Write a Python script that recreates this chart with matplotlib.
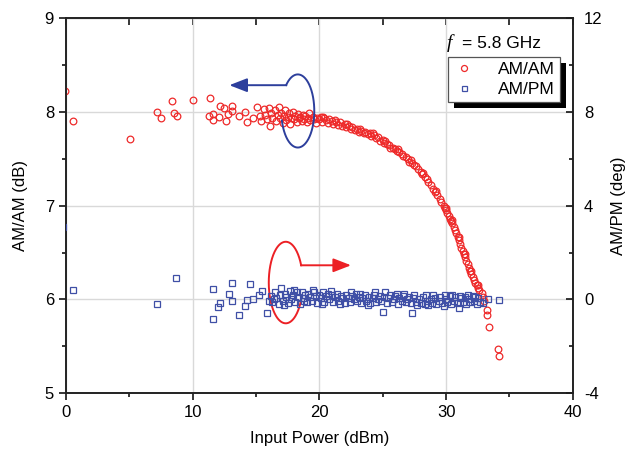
import numpy as np
import matplotlib
matplotlib.use("Agg")
import matplotlib.pyplot as plt
from matplotlib.patches import Rectangle
from matplotlib.transforms import IdentityTransform

plt.rcParams['font.family'] = ['Liberation Sans', 'DejaVu Sans']
plt.rcParams['font.size'] = 12
plt.rcParams['axes.unicode_minus'] = False

# AM/AM (dB) vs input power (dBm)
amam_x = [-0.1, 0.6, 5.05, 7.2, 7.5, 8.4, 8.5, 8.8, 10.0, 11.4, 11.3, 11.6, 11.6, 12.1, 12.2,
          12.5, 12.6, 12.8, 13.1, 13.1, 13.7, 14.1, 14.3, 14.8, 15.1,
          15.3, 15.4, 15.6, 15.7, 15.9, 16.0, 16.1, 16.2, 16.3, 16.5, 16.6, 16.7, 16.8, 16.9,
          17.0, 17.1, 17.2, 17.3, 17.4, 17.5, 17.6, 17.7, 17.8, 17.9, 18.0, 18.1, 18.2, 18.3,
          18.4, 18.5, 18.6, 18.7, 18.8, 18.9, 19.0, 19.1, 19.2, 19.3, 19.5, 19.6, 19.7, 19.8,
          20.0, 20.1, 20.2, 20.3, 20.4, 20.5, 20.7, 20.8, 21.0, 21.1, 21.2, 21.3, 21.5, 21.6,
          21.8, 22.0, 22.1, 22.2, 22.3, 22.5, 22.6, 22.8, 23.0, 23.1, 23.2, 23.3, 23.5, 23.6,
          23.8, 24.0, 24.1, 24.2, 24.3, 24.5, 24.6, 24.8, 25.0, 25.1, 25.2, 25.3, 25.5, 25.6,
          25.8, 26.0, 26.1, 26.2, 26.3, 26.5, 26.6, 26.8, 27.0, 27.1, 27.2, 27.3, 27.5, 27.6,
          27.8, 28.0, 28.1, 28.2, 28.3, 28.5, 28.6, 28.8, 29.0, 29.1, 29.2, 29.3, 29.5, 29.6,
          29.8, 29.9, 30.0, 30.0, 30.1, 30.2, 30.3, 30.4, 30.5, 30.5, 30.6, 30.7, 30.8, 30.9,
          31.0, 31.0, 31.1, 31.2, 31.3, 31.4, 31.5, 31.5, 31.6, 31.7, 31.8, 31.9, 32.0, 32.0,
          32.1, 32.2, 32.3, 32.4, 32.5, 32.5, 32.6, 32.8, 32.9, 33.0, 33.2, 33.2, 33.4, 34.1, 34.2]
amam_y = [8.22, 7.90, 7.71, 8.00, 7.94, 8.12, 7.99, 7.96, 8.13, 8.15, 7.96, 7.98, 7.91, 7.95, 8.06,
          8.04, 7.90, 7.98, 8.06, 8.01, 7.96, 8.00, 7.89, 7.93, 8.05,
          7.96, 7.90, 8.03, 7.97, 7.92, 8.04, 7.85, 7.99, 7.94, 8.02, 7.90, 7.97, 8.05, 7.93,
          7.99, 7.88, 7.96, 8.02, 7.91, 7.95, 7.99, 7.87, 7.94, 8.00, 7.92, 7.96, 7.89, 7.98,
          7.93, 7.95, 7.90, 7.97, 7.92, 7.96, 7.89, 7.94, 7.99, 7.91, 7.95, 7.92, 7.88, 7.94,
          7.92, 7.95, 7.89, 7.95, 7.93, 7.91, 7.88, 7.92, 7.90, 7.87, 7.91, 7.89, 7.86, 7.89,
          7.85, 7.87, 7.84, 7.87, 7.85, 7.82, 7.84, 7.81, 7.82, 7.79, 7.82, 7.80, 7.77, 7.79,
          7.76, 7.77, 7.74, 7.77, 7.75, 7.72, 7.73, 7.69, 7.70, 7.67, 7.69, 7.66, 7.65, 7.62,
          7.62, 7.60, 7.58, 7.60, 7.57, 7.55, 7.53, 7.52, 7.50, 7.47, 7.49, 7.46, 7.43, 7.42,
          7.39, 7.36, 7.34, 7.35, 7.31, 7.28, 7.25, 7.22, 7.18, 7.15, 7.16, 7.11, 7.07, 7.04,
          7.00, 6.97, 6.95, 6.98, 6.92, 6.89, 6.86, 6.84, 6.81, 6.85, 6.77, 6.74, 6.71, 6.67,
          6.63, 6.67, 6.59, 6.55, 6.52, 6.48, 6.45, 6.48, 6.41, 6.38, 6.34, 6.30, 6.27, 6.30,
          6.24, 6.21, 6.18, 6.15, 6.12, 6.15, 6.10, 6.07, 6.03, 5.98, 5.89, 5.83, 5.71, 5.47, 5.40]

# AM/PM (deg) vs input power (dBm)
ampm_x = [-0.2, 0.6, 7.2, 8.7, 11.6, 11.6, 12.0, 12.2, 12.9, 13.1, 13.1, 13.7, 14.1, 14.3, 14.5,
          14.8, 15.2, 15.5, 15.9, 16.0,
          16.2, 16.3, 16.4, 16.5, 16.6, 16.8, 16.9, 17.0, 17.1, 17.2, 17.3, 17.4, 17.5, 17.7,
          17.8, 17.9, 18.0, 18.1, 18.2, 18.3, 18.5, 18.6, 18.7, 18.8, 18.9, 19.0, 19.1, 19.3,
          19.4, 19.5, 19.6, 19.7, 19.8, 20.0, 20.1, 20.2, 20.3, 20.4, 20.5, 20.7, 20.8, 20.9,
          21.0, 21.1, 21.2, 21.4, 21.5, 21.6, 21.7, 21.8, 22.0, 22.1, 22.3, 22.4, 22.5, 22.6,
          22.7, 22.9, 23.0, 23.1, 23.2, 23.3, 23.4, 23.6, 23.7, 23.8, 23.9, 24.0, 24.2, 24.3,
          24.4, 24.5, 24.6, 24.8, 24.9, 25.0, 25.1, 25.2, 25.3, 25.4, 25.6, 25.7, 25.9, 26.0,
          26.1, 26.2, 26.3, 26.5, 26.6, 26.7, 26.8, 26.9, 27.1, 27.2, 27.3, 27.4, 27.5, 27.6,
          27.7, 27.9, 28.0, 28.2, 28.3, 28.4, 28.5, 28.6, 28.8, 28.9, 29.0, 29.1, 29.2, 29.4,
          29.5, 29.7, 29.8, 29.9, 30.0, 30.1, 30.3, 30.4, 30.5, 30.6, 30.7, 30.9, 31.0, 31.1,
          31.2, 31.3, 31.5, 31.6, 31.7, 31.8, 31.9, 32.1, 32.2, 32.3, 32.4, 32.5, 32.7, 32.9,
          33.3, 34.2]
ampm_y = [3.1, 0.40, -0.21, 0.90, 0.46, -0.85, -0.31, -0.14, 0.24, 0.68, -0.07, -0.67, -0.29, -0.03, 0.64,
          0.00, 0.17, 0.35, -0.57, -0.05,
          0.15, -0.10, 0.00, 0.30, 0.05, -0.20, 0.20, 0.50, -0.05, -0.25, 0.25, 0.10, -0.15, 0.35,
          0.00, 0.20, 0.40, -0.10, 0.30, 0.10, -0.20, 0.31, 0.05, -0.05, 0.20, -0.10, 0.25, 0.10,
          -0.05, 0.40, 0.30, 0.15, -0.15, 0.20, 0.05, -0.20, 0.30, -0.10, 0.15, 0.25, 0.00, 0.35,
          0.20, -0.10, 0.10, 0.25, -0.05, -0.20, 0.15, 0.05, -0.15, 0.20, 0.05, -0.10, 0.30, 0.15,
          0.00, 0.25, -0.05, 0.10, 0.25, -0.15, 0.05, 0.20, -0.05, -0.25, 0.10, -0.15, 0.05, 0.20,
          0.30, -0.10, 0.00, 0.15, -0.05, -0.54, 0.10, 0.30, -0.15, 0.05, 0.20, -0.10, 0.00, 0.15,
          0.25, -0.20, 0.05, -0.05, 0.15, 0.25, -0.10, 0.00, 0.10, -0.15, -0.60, 0.05, 0.20, -0.10,
          -0.25, 0.00, -0.15, 0.10, -0.20, 0.20, -0.05, -0.25, 0.00, -0.15, 0.20, 0.05, -0.20, -0.05,
          0.10, -0.15, -0.30, 0.20, 0.00, -0.10, 0.15, -0.20, 0.20, -0.05, 0.10, -0.15, -0.35, 0.15,
          0.05, -0.10, 0.10, -0.20, 0.20, 0.00, -0.10, 0.15, -0.05, 0.10, -0.20, 0.05, -0.10, -0.15,
          0.00, -0.03]

red = '#ee2a2a'
blue = '#3f4fa6'

fig = plt.figure(figsize=(6.33, 4.54), dpi=100)
ax = fig.add_axes([0.104, 0.134, 0.801, 0.826])
ax2 = ax.twinx()

ax.grid(True, which='major', color='#d9d9d9', lw=1.0)
ax.set_axisbelow(True)

l1, = ax.plot(amam_x, amam_y, ls='none', marker='o', ms=4.8, mfc='none', mec=red, mew=0.9,
              label='AM/AM', zorder=3)
l2, = ax2.plot(ampm_x, ampm_y, ls='none', marker='s', ms=4.0, mfc='none', mec=blue, mew=0.9,
               label='AM/PM', zorder=3)

ax.set_xlim(0, 40)
ax.set_ylim(5, 9)
ax2.set_ylim(-4, 12)
ax.set_xticks([0, 10, 20, 30, 40])
ax.set_xticks([5, 15, 25, 35], minor=True)
ax.set_yticks([5, 6, 7, 8, 9])
ax.set_yticks([5.5, 6.5, 7.5, 8.5], minor=True)
ax2.set_yticks([-4, 0, 4, 8, 12])
ax2.set_yticks([-2, 2, 6, 10], minor=True)

ax.tick_params(axis='both', which='major', direction='out', length=5, width=1.1, labelsize=12)
ax.tick_params(axis='both', which='minor', direction='out', length=3, width=1.1)
ax2.tick_params(axis='y', which='major', direction='in', length=5, width=1.1, labelsize=12, pad=8)
ax2.tick_params(axis='y', which='minor', direction='in', length=3, width=1.1)

top = ax.secondary_xaxis('top')
top.set_xticks([0, 10, 20, 30, 40])
top.set_xticks([5, 15, 25, 35], minor=True)
top.tick_params(which='major', direction='in', length=5, width=1.1, labeltop=False)
top.tick_params(which='minor', direction='in', length=5, width=1.1)

for a in (ax, ax2):
    for s in a.spines.values():
        s.set_linewidth(1.2)
        s.set_color('#222222')

ax.set_xlabel('Input Power (dBm)', fontsize=12, labelpad=8)
ax.set_ylabel('AM/AM (dB)', fontsize=12, labelpad=12)
ax2.set_ylabel('AM/PM (deg)', fontsize=12, labelpad=6)

# loop + arrow annotations (left axis data coords)
t = np.radians(np.linspace(195, 495, 200))
ax.plot(18.3 + 1.3 * np.cos(t), 8.01 + 0.39 * np.sin(t), color='#2d3f9c', lw=1.4, zorder=4)
ax.annotate('', xy=(12.9, 8.285), xytext=(17.4, 8.285),
            arrowprops=dict(arrowstyle='-|>,head_length=0.9,head_width=0.35', color='#2d3f9c',
                            lw=1.4, shrinkA=0, shrinkB=0))
t = np.radians(np.linspace(25, 331, 200))
ax.plot(17.35 + 1.34 * np.cos(t), 6.18 + 0.435 * np.sin(t), color='#ec2025', lw=1.4, zorder=4)
ax.annotate('', xy=(22.5, 6.364), xytext=(18.55, 6.364),
            arrowprops=dict(arrowstyle='-|>,head_length=0.9,head_width=0.35', color='#ec2025',
                            lw=1.4, shrinkA=0, shrinkB=0))

# frequency note and legend
ax.text(0.752, 0.933, 'f', transform=ax.transAxes, fontsize=14, style='italic',
        family='Liberation Serif', va='center', ha='left')
ax.text(0.782, 0.933, '= 5.8 GHz', transform=ax.transAxes, fontsize=12.5, va='center', ha='left')

leg = ax2.legend(handles=[l1, l2], loc='upper left', bbox_to_anchor=(0.753, 0.897),
                 borderaxespad=0, frameon=True, fancybox=False, framealpha=1,
                 edgecolor='#555555', fontsize=12.5, handlelength=1.3, handletextpad=1.3,
                 borderpad=0.3, labelspacing=0.25, markerscale=0.9)
leg.get_frame().set_linewidth(0.9)
leg.set_zorder(6)

fig.canvas.draw()
bb = leg.get_window_extent()
shadow = Rectangle((bb.x0 + 6, bb.y0 - 6), bb.width, bb.height, transform=IdentityTransform(),
                   facecolor='black', edgecolor='none', zorder=5)
ax2.add_artist(shadow)

fig.savefig('out.png', dpi=100)
